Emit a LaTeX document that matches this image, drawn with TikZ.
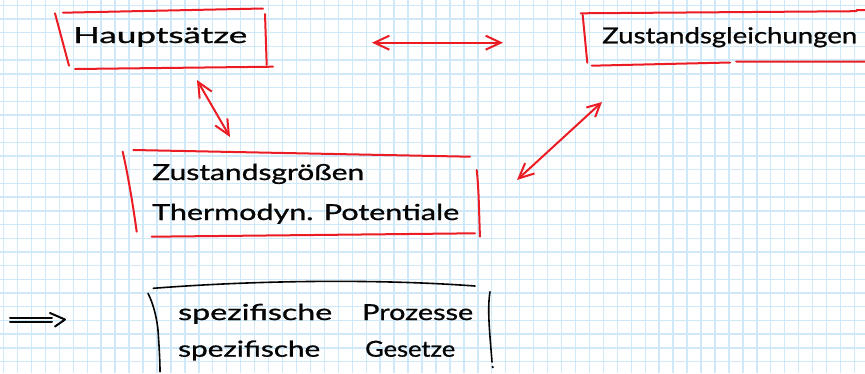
\documentclass[tikz,border=0pt]{standalone}
\usepackage{fontspec}
\setmainfont{Lato}
\newfontfamily\hwfont{Lato}[FakeBold=0.9]
\usetikzlibrary{arrows.meta}
\definecolor{gridblue}{RGB}{208,233,249}
\definecolor{pen}{RGB}{235,28,36}
\definecolor{ink}{RGB}{5,5,5}
\tikzset{
  gridline/.style={draw=gridblue, line width=1.4pt},
  redline/.style={draw=pen, line width=2pt, line cap=round, line join=round},
  inkline/.style={draw=ink, line width=2pt, line cap=round, line join=round},
  barb/.tip={Straight Barb[length=15pt,width=14pt]},
  twohead/.style={redline, barb-barb},
  hw/.style={inner sep=0pt, anchor=base west, text=ink, font=\hwfont\fontsize{22}{26}\selectfont},
}
\newcommand{\hwtext}[2]{\resizebox{#1}{\height}{#2}}
\begin{document}
\begin{tikzpicture}[x=1pt,y=-1pt]
\useasboundingbox (0,0) rectangle (865,373);
\begin{scope}
\clip (0,0) rectangle (865,373);
\fill[white] (0,0) rectangle (865,373);
% grid paper
\foreach \i in {0,...,61} \draw[gridline] ({3.5+13.95*\i},0) -- ({3.5+13.95*\i},373);
\foreach \j in {0,...,26} \draw[gridline] (0,{5.3+13.7*\j}) -- (865,{5.3+13.7*\j});

% ---- texts ----
\node[hw] (haupt) at (73,43) {\hwtext{174pt}{Hauptsätze}};
\node[hw] (zgl) at (602,43.3) {\hwtext{255pt}{Zustandsgleichungen}};
\node[hw] (zgr) at (152,180) {\hwtext{212pt}{Zustandsgrößen}};
\node[hw] (thermo) at (152,220) {\hwtext{307pt}{Thermodyn. Potentiale}};
\node[hw] (spez1) at (178,320) {\hwtext{154pt}{spezifische}};
\node[hw] (proz) at (362,320) {\hwtext{111pt}{Prozesse}};
\node[hw] (spez2) at (178,356.7) {\hwtext{142pt}{spezifische}};
\node[hw] (ges) at (365,356.7) {\hwtext{90pt}{Gesetze}};

% ---- box: Hauptsaetze ----
\draw[redline] (63,12.7) -- (263,8.5);
\draw[redline] (55,13.3) -- (69,65.7);
\draw[redline] (75,69) -- (273,66.7);
\draw[redline] (265,14) -- (266.7,65);

% ---- box: Zustandsgleichungen ----
\draw[redline] (580.7,13.3) -- (856,11.2) -- (857,10) -- (870,10);
\draw[redline] (582.7,15) -- (587.3,62.7);
\draw[redline] (591.7,65.7) -- (730,62.5);
\draw[redline] (736,61.5) -- (870,61.7);

% ---- box: Zustandsgroessen ----
\draw[redline] (133.3,150) -- (470,156.7);
\draw[redline] (122.7,151.7) .. controls (128,175) and (133,205) .. (136.7,231.7);
\draw[redline] (151.7,236.7) -- (475,233.3);
\draw[redline] (476.7,170) .. controls (479,190) and (479,215) .. (480,236.7);

% ---- bracket box: spezifische ... ----
\draw[inkline, line width=1.6pt] (153.3,288.3) .. controls (260,280) and (380,279) .. (475,286);
\draw[inkline, line width=1.6pt] (148,293.3) .. controls (154,305) and (157,320) .. (158,330) .. controls (159,345) and (160,360) .. (160,371.7);
\draw[inkline, line width=1.6pt] (490,291.7) .. controls (487,310) and (490,335) .. (492,362);
\fill[ink] (492.7,367) circle (1.3pt);

% ---- implies arrow ----
\coordinate (impS1) at (10,318.3);
\coordinate (impE1) at (52,318.3);
\coordinate (impS2) at (10,322);
\coordinate (impE2) at (52,322);
\draw[inkline] (impS1) -- (impE1);
\draw[inkline] (impS2) -- (impE2);
\draw[inkline] (50,313) -- (65,319.5) -- (55,326.5);

% ---- connectors ----
\coordinate (hauptEnd) at (197,80);
\coordinate (zgrTop) at (230,137);
\draw[twohead] (hauptEnd) -- (zgrTop);

\coordinate (hauptRight) at (372,42.7);
\coordinate (zglLeft) at (503,42.7);
\draw[twohead] (hauptRight) -- (zglLeft);

\coordinate (zgrRight) at (517,180);
\coordinate (zglBottom) at (602,102);
\draw[twohead, barb-{Straight Barb[length=13pt,width=13pt]}] (zgrRight) -- (zglBottom);
\end{scope}
\end{tikzpicture}
\end{document}
